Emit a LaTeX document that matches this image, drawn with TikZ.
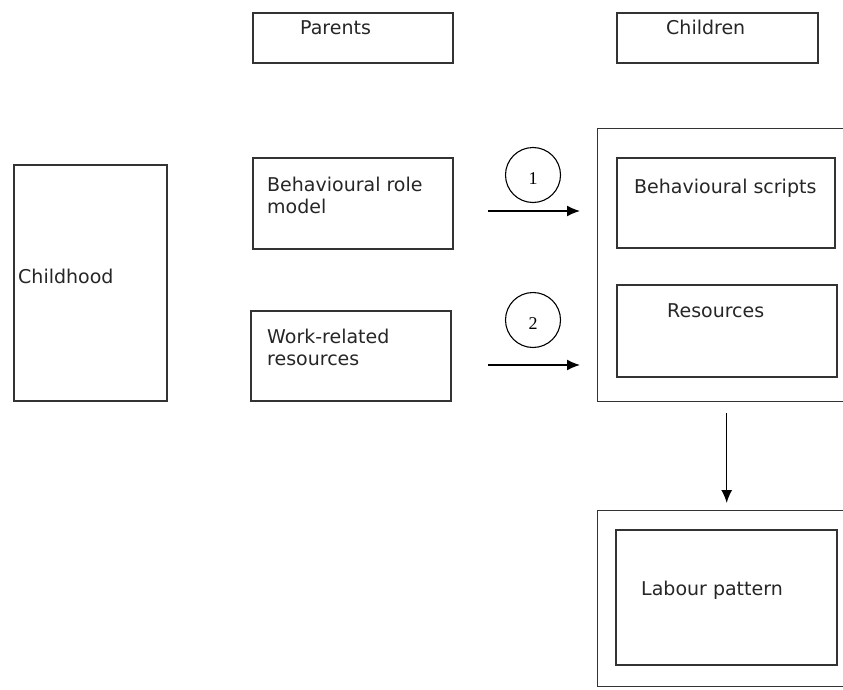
\documentclass[tikz,border=0pt]{standalone}
\usepackage{fontspec}
\setmainfont{DejaVu Sans}
\newfontfamily\numfont{Liberation Serif}
\usepackage{tikz}
\usetikzlibrary{positioning,arrows.meta}

\begin{document}
\begin{tikzpicture}[
    x=1pt,y=-1pt,
    box/.style={rectangle,draw=black!80,line width=2.2pt,inner sep=0pt,anchor=north west},
    frame/.style={rectangle,draw=black!80,line width=1.4pt,inner sep=0pt,anchor=north west},
    txt/.style={inner sep=0pt,anchor=base west,align=left,font=\fontsize{19}{22}\selectfont,text=black!85},
    numcircle/.style={circle,draw=black,line width=1.1pt,minimum size=55pt,inner sep=0pt},
    numlbl/.style={inner sep=0pt,font=\numfont\fontsize{18}{18}\selectfont},
    arrow/.style={-{Latex[length=13pt,width=11pt]},line width=1.5pt,black}
]
\useasboundingbox (0,0) rectangle (843,690);
\fill[white] (0,0) rectangle (843,690);
\clip (0,0) rectangle (843,690);

% column heads
\node[box,minimum width=200pt,minimum height=50pt] (parents) at (252,12) {};
\node[txt] (parentslbl) at (300,35) {Parents};
\node[box,minimum width=201pt,minimum height=50pt] (children) at (616,12) {};
\node[txt] (childrenlbl) at (666,35) {Children};

% parents side
\node[box,minimum width=153pt,minimum height=236pt] (childhood) at (13,164) {};
\node[txt] (childhoodlbl) at (18,283) {Childhood};
\node[box,minimum width=200pt,minimum height=91pt] (rolemodel) at (252,157) {};
\node[txt] (rolemodellbl) at (267,213) {Behavioural role\\model};
\node[box,minimum width=200pt,minimum height=90pt] (workres) at (250,310) {};
\node[txt] (workreslbl) at (267,365) {Work-related\\resources};

% children side
\node[frame,minimum width=258pt,minimum height=273pt] (kidsframe) at (597,128) {};
\node[box,minimum width=218pt,minimum height=90pt] (scripts) at (616,157) {};
\node[txt] (scriptslbl) at (634,193) {Behavioural scripts};
\node[box,minimum width=220pt,minimum height=92pt] (resources) at (616,284) {};
\node[txt] (resourceslbl) at (667,317) {Resources};

\node[frame,minimum width=258pt,minimum height=176pt] (labourframe) at (597,510) {};
\node[box,minimum width=221pt,minimum height=135pt] (labour) at (615,529) {};
\node[txt] (labourlbl) at (641,595) {Labour pattern};

% numbered paths
\node[numcircle] (c1) at (533,175) {};
\node[numlbl] (n1) at ([yshift=-4pt]c1.center) {1};
\node[numcircle] (c2) at (533,320) {};
\node[numlbl] (n2) at ([yshift=-4pt]c2.center) {2};

\coordinate (a1) at (488,211);
\coordinate (a2) at (488,365);
\draw[arrow] (a1) -- ([xshift=-17pt]a1 -| kidsframe.west);
\draw[arrow] (a2) -- ([xshift=-17pt]a2 -| kidsframe.west);
\draw[arrow,shorten <=11pt,shorten >=7pt] (kidsframe.south) -- (labourframe.north);

\end{tikzpicture}
\end{document}
